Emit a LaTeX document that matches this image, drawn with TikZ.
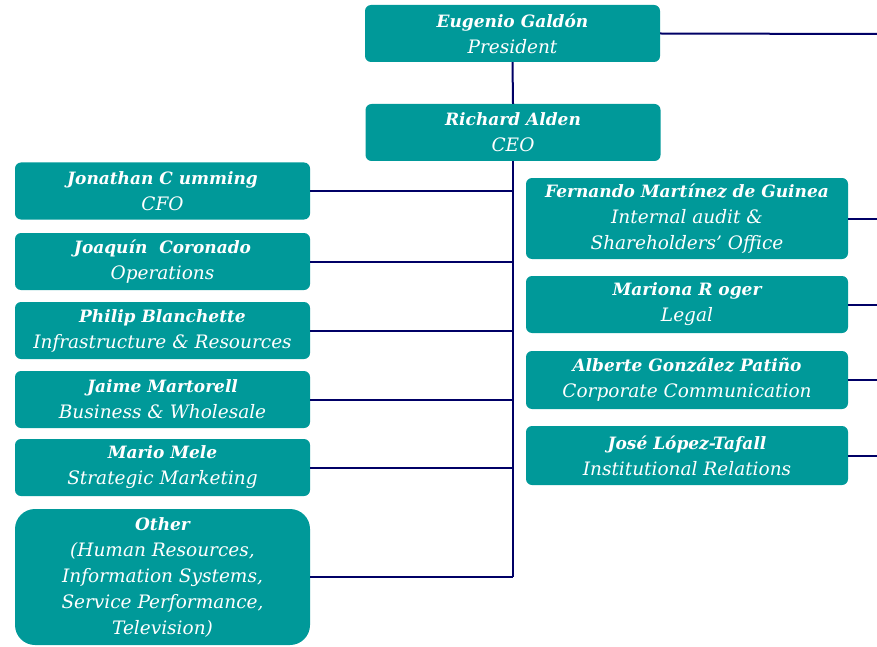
\documentclass[tikz,border=0pt]{standalone}
\usepackage{fontspec}
\setmainfont{DejaVu Serif}
\usepackage{tikz}
\definecolor{boxteal}{rgb}{0, 0.6, 0.6}
\definecolor{linenavy}{rgb}{0.0, 0.0, 0.4}
\tikzstyle{every post node}=[rectangle,rounded corners=6pt,fill=boxteal,text=white,align=center,
  minimum width=295pt,minimum height=57pt,inner sep=2pt,font=\fontsize{17}{26}\selectfont]
\tikzstyle{link}=[linenavy,line width=2pt]
\newcommand{\staff}[2]{{\bfseries\itshape #1}\\{\rolefont #2}}
\newcommand{\rolefont}{\itshape\fontsize{18.5}{26}\selectfont}

\begin{document}
\begin{tikzpicture}[x=1pt,y=-1pt]
\useasboundingbox (0,0) rectangle (877,647);

  \node[every post node] (pres) at (512.5,33.5) {\staff{Eugenio Galdón}{President}};
  \node[every post node] (ceo) at (513,132.5) {\staff{Richard Alden}{CEO}};

  \node[every post node] (cfo) at (162.5,191) {\staff{Jonathan C umming}{CFO}};
  \node[every post node] (ops) at (162.5,261.5) {\staff{Joaquín\ \ Coronado}{Operations}};
  \node[every post node] (infra) at (162.5,330.5) {\staff{Philip Blanchette}{Infrastructure \& Resources}};
  \node[every post node] (biz) at (162.5,399.5) {\staff{Jaime Martorell}{Business \& Wholesale}};
  \node[every post node] (mkt) at (162.5,467.5) {\staff{Mario Mele}{Strategic Marketing}};
  \node[every post node,rounded corners=20pt,minimum height=136pt] (other) at (162.5,577)
    {{\bfseries\itshape Other}\\{\rolefont (Human Resources,}\\{\rolefont Information Systems,}\\
     {\rolefont Service Performance,}\\{\rolefont Television)}};

  \node[every post node,minimum width=322pt,minimum height=81pt] (audit) at (687,218.5)
    {{\bfseries\itshape Fernando Martínez de Guinea}\\{\rolefont Internal audit \&}\\{\rolefont Shareholders’ Office}};
  \node[every post node,minimum width=322pt] (legal) at (687,304.5) {\staff{Mariona R oger}{Legal}};
  \node[every post node,minimum width=322pt,minimum height=58pt] (comm) at (687,380) {\staff{Alberte González Patiño}{Corporate Communication}};
  \node[every post node,minimum width=322pt,minimum height=59pt] (inst) at (687,455.5) {\staff{José López-Tafall}{Institutional Relations}};

  \coordinate (edge) at (877,34);

  \draw [link] (pres.south) -- (ceo.north);
  \draw [link] (pres.east) -- (edge);
  \draw [link] (ceo.south) -- (other.east -| ceo.south);

  \foreach \n in {cfo,ops,infra,biz,mkt,other}
    \draw [link] (\n.east) -- (\n.east -| ceo.south);
  \foreach \n in {audit,legal,comm,inst}
    \draw [link] (\n.east) -- (\n.east -| edge);

\end{tikzpicture}
\end{document}
